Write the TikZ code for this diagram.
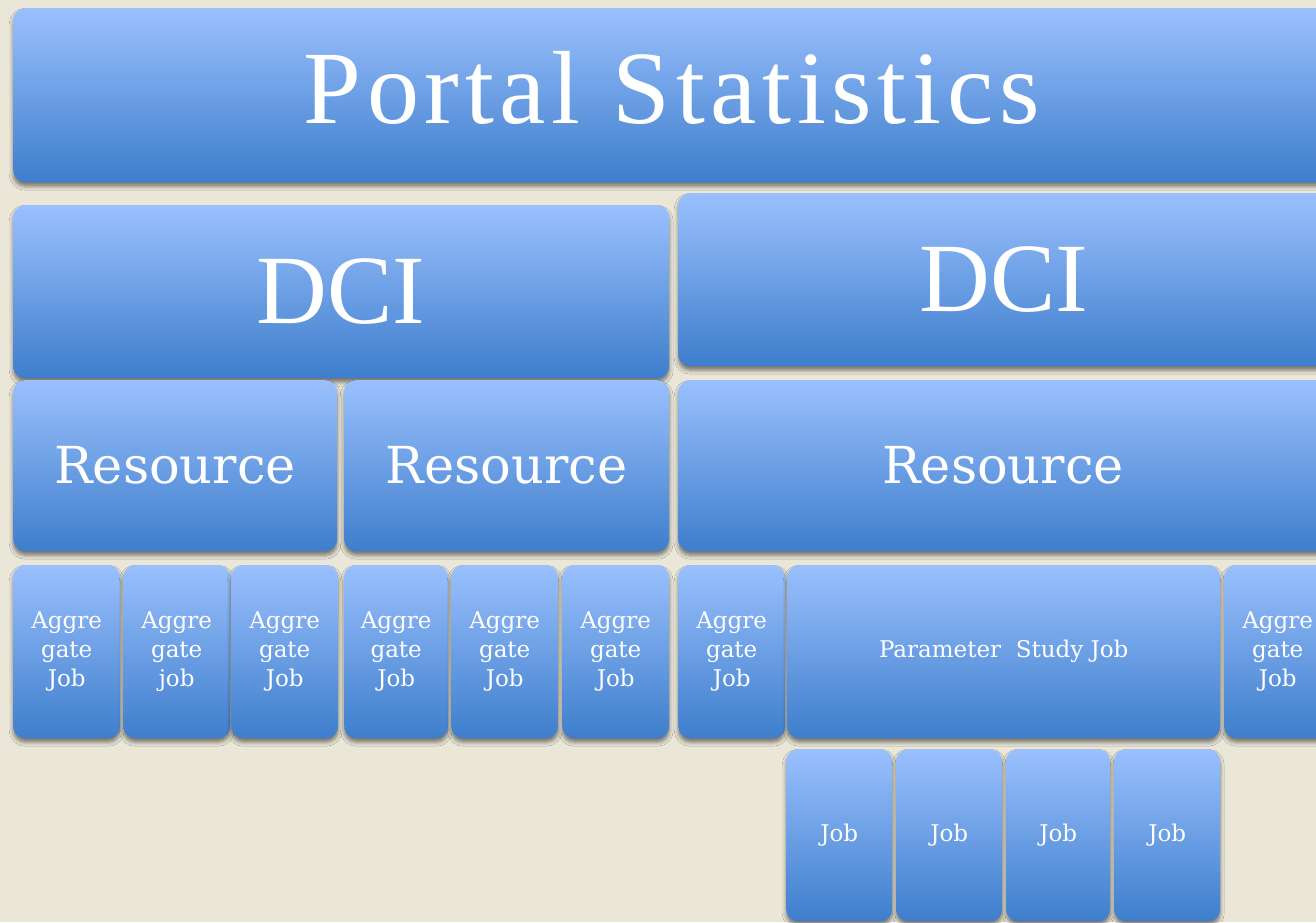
\documentclass[tikz,border=0pt]{standalone}
\usepackage{fontspec}
\setmainfont{DejaVu Serif}
\newfontfamily\titlefont{Liberation Serif}
\newfontfamily\portalfont[LetterSpace=5.5]{Liberation Serif}
\usepackage{tikz}
\usetikzlibrary{shadows.blur}

\definecolor{boxtop}{RGB}{154,192,253}
\definecolor{boxbot}{RGB}{62,126,204}
\definecolor{paper}{RGB}{234,231,217}

\tikzset{
  tile/.style={anchor=north west, rounded corners=12pt, inner sep=0pt, text=white,
    top color=boxtop, bottom color=boxbot,
    blur shadow={shadow xshift=0pt, shadow yshift=-4pt, shadow blur radius=4pt, shadow opacity=50}},
  bigtext/.style={font=\portalfont\fontsize{104}{110}\selectfont},
  dcitext/.style={font=\titlefont\fontsize{98}{104}\selectfont},
  restext/.style={font=\fontsize{51}{56}\selectfont},
  jobtext/.style={font=\fontsize{23}{29}\selectfont, align=center}
}

\begin{document}
\begin{tikzpicture}[x=1pt,y=-1pt]
\useasboundingbox (0,0) rectangle (1316,922);
\fill[paper] (0,0) rectangle (1316,922);
\node[tile, bigtext, minimum width=1317pt, minimum height=174pt, text depth=16pt] (portal) at (13,8) {Portal Statistics};
\node[tile, dcitext, minimum width=656pt, minimum height=173pt] (dciA) at (13,205) {DCI};
\node[tile, dcitext, minimum width=652pt, minimum height=173pt] (dciB) at (678,193) {DCI};
\node[tile, restext, minimum width=324pt, minimum height=171pt] (resA) at (13,380) {Resource};
\node[tile, restext, minimum width=325pt, minimum height=171pt] (resB) at (344,380) {Resource};
\node[tile, restext, minimum width=650pt, minimum height=171pt] (resC) at (678,380) {Resource};
\node[tile, jobtext, minimum width=107pt, minimum height=173pt] (aggA) at (13,565) {Aggre\\gate\\Job};
\node[tile, jobtext, minimum width=107pt, minimum height=173pt] (aggB) at (123,565) {Aggre\\gate\\job};
\node[tile, jobtext, minimum width=107pt, minimum height=173pt] (aggC) at (231,565) {Aggre\\gate\\Job};
\node[tile, jobtext, minimum width=104pt, minimum height=173pt] (aggD) at (344,565) {Aggre\\gate\\Job};
\node[tile, jobtext, minimum width=107pt, minimum height=173pt] (aggE) at (451,565) {Aggre\\gate\\Job};
\node[tile, jobtext, minimum width=107pt, minimum height=173pt] (aggF) at (562,565) {Aggre\\gate\\Job};
\node[tile, jobtext, minimum width=107pt, minimum height=173pt] (aggG) at (678,565) {Aggre\\gate\\Job};
\node[tile, jobtext, minimum width=433pt, minimum height=173pt] (param) at (787,565) {Parameter\ \ Study Job};
\node[tile, jobtext, minimum width=107pt, minimum height=173pt] (aggH) at (1224,565) {Aggre\\gate\\Job};
\node[tile, jobtext, minimum width=106pt, minimum height=172pt] (jobA) at (786,749) {Job};
\node[tile, jobtext, minimum width=106pt, minimum height=172pt] (jobB) at (896,749) {Job};
\node[tile, jobtext, minimum width=104pt, minimum height=172pt] (jobC) at (1006,749) {Job};
\node[tile, jobtext, minimum width=106pt, minimum height=172pt] (jobD) at (1114,749) {Job};
\end{tikzpicture}
\end{document}
